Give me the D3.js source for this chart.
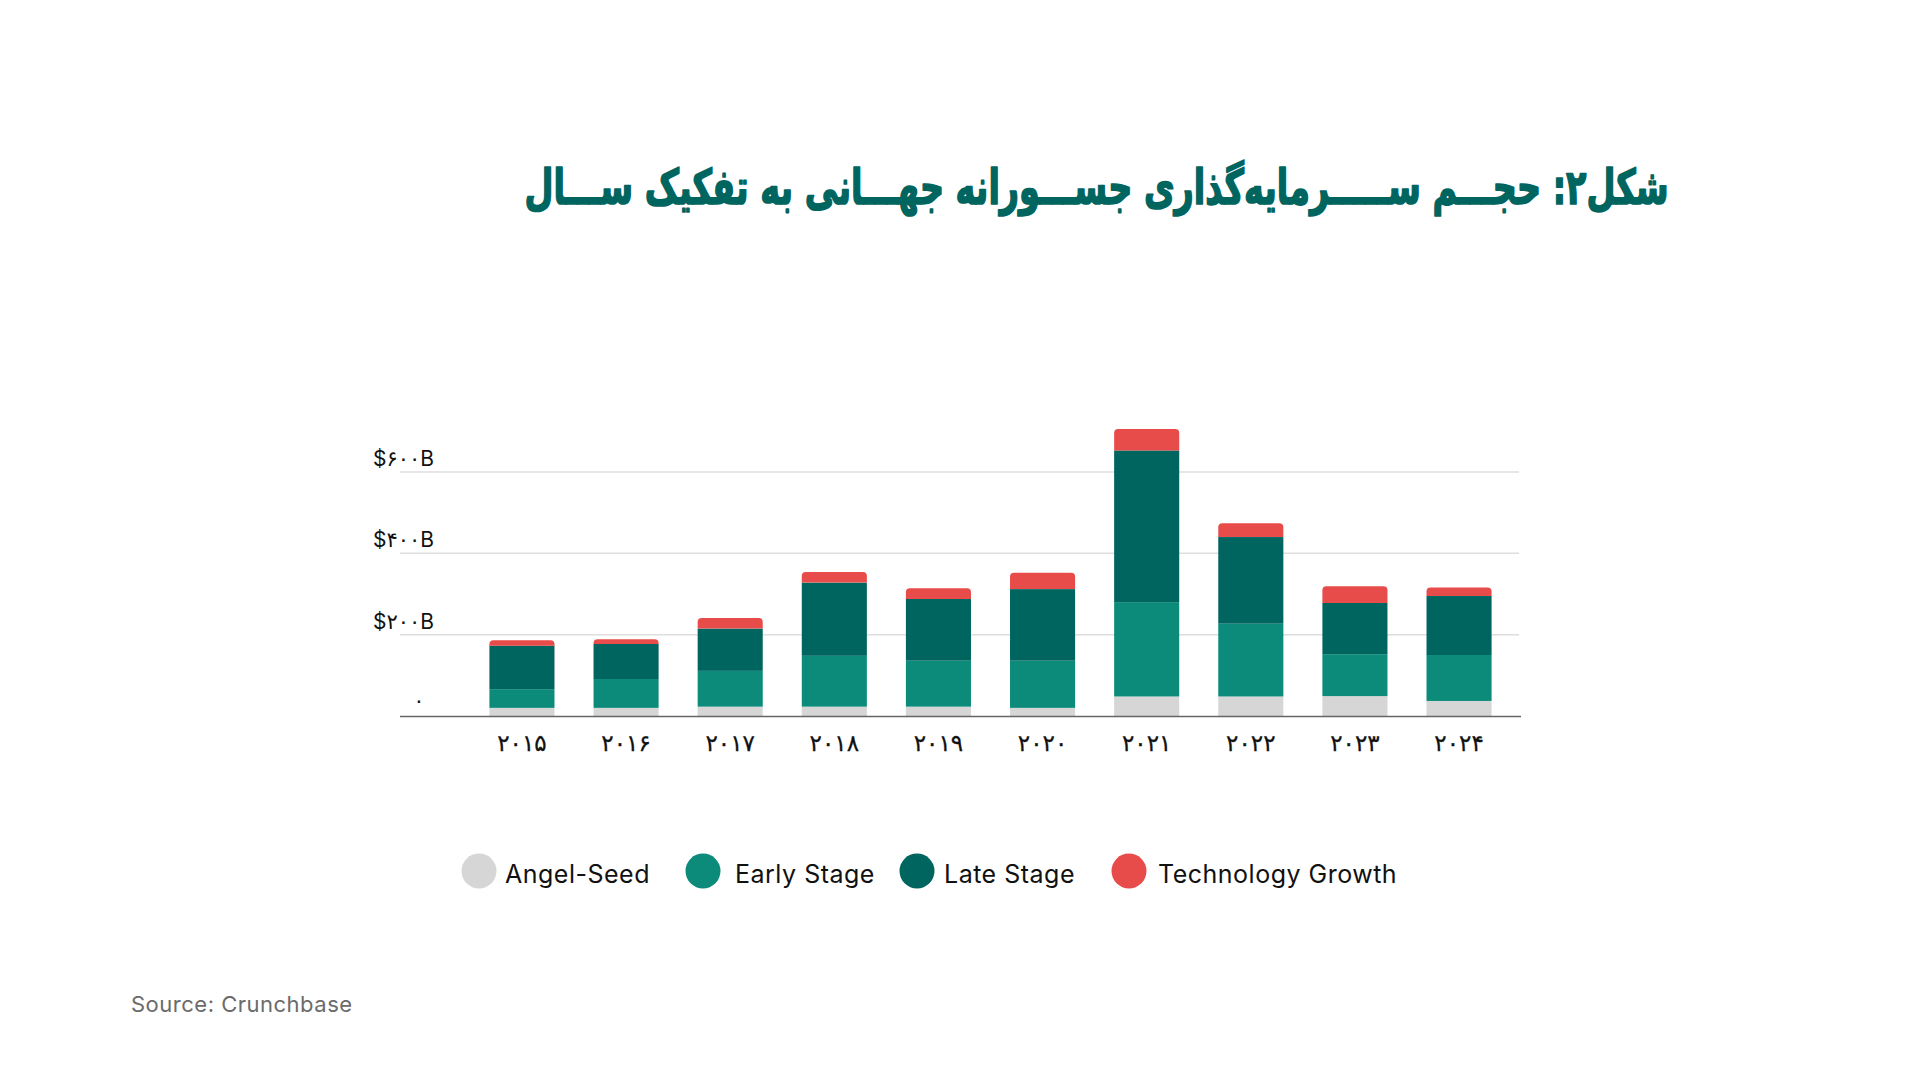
<!DOCTYPE html>
<html><head><meta charset="utf-8">
<script src="https://cdn.jsdelivr.net/npm/d3@7/dist/d3.min.js"></script>
<style>
html,body{margin:0;padding:0;background:#fff;}
svg{display:block;}
</style></head>
<body>
<svg id="chart" width="1920" height="1080"></svg>
<script>
// ---- data ----
const years = ["2015","2016","2017","2018","2019","2020","2021","2022","2023","2024"];
const yearLabels = ["۲۰۱۵","۲۰۱۶","۲۰۱۷","۲۰۱۸","۲۰۱۹","۲۰۲۰","۲۰۲۱","۲۰۲۲","۲۰۲۳","۲۰۲۴"];
const angelSeed = [20, 20, 23, 23, 23, 20, 48, 48, 49, 37];
const earlyStage = [46, 71, 88, 125, 113, 116, 232, 179, 103, 113];
const lateStage = [107, 86, 104, 180, 152, 176, 373, 213, 126, 145];
const techGrowth = [13, 12, 26, 26, 26, 40, 53, 34, 41, 21];
const yTicks = [0, 200, 400, 600];
const yTickLabels = ["۰", "$۲۰۰B", "$۴۰۰B", "$۶۰۰B"];
const seriesNames = ["Angel-Seed", "Early Stage", "Late Stage", "Technology Growth"];
const seriesColors = ["#d6d6d6", "#0d8b7a", "#00645f", "#e84c4a"];
const titleText = "شکل۲: حجـــم ســـــرمایه‌گذاری جســـورانه جهـــانی به تفکیک ســـال";
const sourceText = "Source: Crunchbase";

const svg = d3.select("#chart");

// ---- title ----
const title = svg.append("text")
  .attr("x", 0).attr("y", 0)
  .attr("transform", "translate(1096.5,204) scale(1,1.45)")
  .attr("text-anchor", "middle")
  .attr("direction", "rtl")
  .attr("font-family", "'DejaVu Sans', sans-serif")
  .attr("font-weight", "bold")
  .attr("font-size", 46)
  .attr("fill", "#00645f")
  .attr("stroke", "#00645f")
  .attr("stroke-width", 1.2)
  .attr("stroke-linejoin", "round")
  .text(titleText);
const tw = title.node().getComputedTextLength();
title.attr("font-size", 46 * 1144 / tw);

// ---- scales ----
const x = d3.scaleBand().domain(years).range([479, 1502]).paddingInner(0.375).paddingOuter(0.1);
const y = d3.scaleLinear().domain([0, 600]).range([716, 472]);

// gridlines
svg.append("g").selectAll("line").data(yTicks.filter(d => d > 0)).join("line")
  .attr("x1", 400).attr("x2", 1519)
  .attr("y1", d => y(d)).attr("y2", d => y(d))
  .attr("stroke", "#dedede").attr("stroke-width", 1.5);

// y labels
svg.append("g").selectAll("text").data(yTicks).join("text")
  .attr("x", (d) => d === 0 ? 419 : 373)
  .attr("y", d => d === 0 ? y(d) - 8 : y(d) - 6)
  .attr("text-anchor", d => d === 0 ? "middle" : "start")
  .attr("font-family", "Inter, 'DejaVu Sans', sans-serif")
  .attr("font-size", 21)
  .attr("fill", "#111")
  .text((d, i) => yTickLabels[i]);

// stacked data
const rows = years.map((yr, i) => ({year: yr, a: angelSeed[i], e: earlyStage[i], l: lateStage[i], t: techGrowth[i]}));
const stack = d3.stack().keys(["a", "e", "l", "t"]);
const stacked = stack(rows);

const bw = x.bandwidth();
const r = 4;
function topPath(x0, y0, y1) {
  const w = bw;
  return `M${x0},${y1} L${x0},${y0 + r} Q${x0},${y0} ${x0 + r},${y0} L${x0 + w - r},${y0} Q${x0 + w},${y0} ${x0 + w},${y0 + r} L${x0 + w},${y1} Z`;
}

stacked.forEach((layer, li) => {
  const g = svg.append("g").attr("fill", seriesColors[li]);
  if (li < 3) {
    g.selectAll("rect").data(layer).join("rect")
      .attr("x", d => x(d.data.year))
      .attr("width", bw)
      .attr("y", d => y(d[1]))
      .attr("height", d => y(d[0]) - y(d[1]));
  } else {
    g.selectAll("path").data(layer).join("path")
      .attr("d", d => topPath(x(d.data.year), y(d[1]), y(d[0])));
  }
});

// baseline
svg.append("line").attr("x1", 400).attr("x2", 1521).attr("y1", y(0) + 0.5).attr("y2", y(0) + 0.5)
  .attr("stroke", "#666").attr("stroke-width", 1.5);

// x axis
const xAxis = d3.axisBottom(x).tickSize(0).tickPadding(0).tickFormat((d, i) => yearLabels[i]);
const gx = svg.append("g").attr("transform", `translate(0,${y(0)})`).call(xAxis);
gx.select(".domain").remove();
gx.selectAll("text")
  .attr("font-family", "'DejaVu Sans', sans-serif")
  .attr("font-size", 23)
  .attr("fill", "#111")
  .attr("stroke", "#111").attr("stroke-width", 0.3)
  .attr("dy", 0)
  .attr("y", 35);

// legend
const legendCircleX = [479, 703, 917, 1129];
const legendTextX = [505, 735, 944, 1158];
const lg = svg.append("g");
seriesNames.forEach((name, i) => {
  lg.append("circle").attr("cx", legendCircleX[i]).attr("cy", 871).attr("r", 17.5).attr("fill", seriesColors[i]);
  lg.append("text").attr("x", legendTextX[i]).attr("y", 883)
    .attr("font-family", "Inter, sans-serif").attr("font-size", 25).attr("letter-spacing", 0.5).attr("fill", "#111")
    .text(name);
});

// source
svg.append("text").attr("x", 131).attr("y", 1012)
  .attr("font-family", "Inter, sans-serif").attr("font-size", 22).attr("letter-spacing", 0.5).attr("fill", "#6b6b6b")
  .text(sourceText);
</script>
</body></html>
